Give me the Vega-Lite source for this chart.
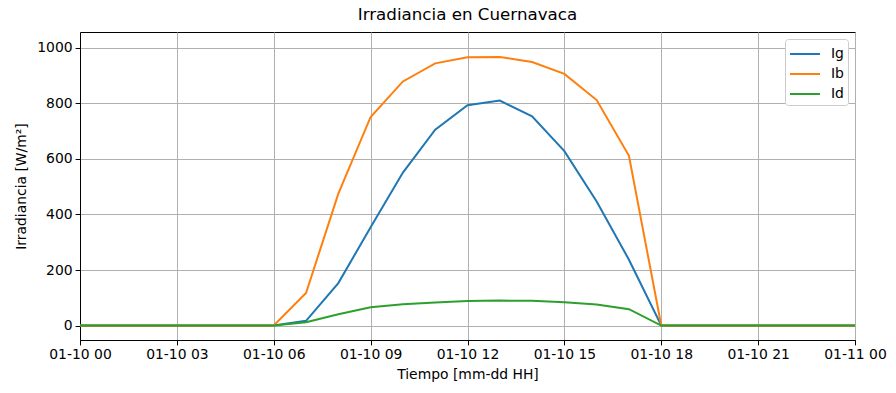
{
  "$schema": "https://vega.github.io/schema/vega-lite/v6.json",
  "width": 775,
  "height": 308,
  "autosize": {"type": "none"},
  "padding": {"left": 80, "top": 32, "right": 41, "bottom": 53},
  "background": "white",
  "title": {"text": "Irradiancia en Cuernavaca", "font": "DejaVu Sans", "fontSize": 16.7, "fontWeight": "normal", "color": "black", "anchor": "middle", "offset": 8},
  "config": {
    "view": {"stroke": "black", "strokeWidth": 1},
    "font": "DejaVu Sans",
    "axis": {
      "labelFont": "DejaVu Sans", "labelFontSize": 13.9, "labelColor": "black",
      "titleFont": "DejaVu Sans", "titleFontSize": 13.9, "titleFontWeight": "normal", "titleColor": "black",
      "domainColor": "black", "domainWidth": 1, "tickColor": "black", "tickSize": 4.9, "tickWidth": 1,
      "gridColor": "#b0b0b0", "gridWidth": 1, "gridOpacity": 1
    }
  },
  "data": {"values": [
    {"t": "2024-01-10T00:00:00Z", "s": "Ig", "v": 0}, {"t": "2024-01-10T01:00:00Z", "s": "Ig", "v": 0}, {"t": "2024-01-10T02:00:00Z", "s": "Ig", "v": 0}, {"t": "2024-01-10T03:00:00Z", "s": "Ig", "v": 0}, {"t": "2024-01-10T04:00:00Z", "s": "Ig", "v": 0}, {"t": "2024-01-10T05:00:00Z", "s": "Ig", "v": 0}, {"t": "2024-01-10T06:00:00Z", "s": "Ig", "v": 0},
    {"t": "2024-01-10T07:00:00Z", "s": "Ig", "v": 17}, {"t": "2024-01-10T08:00:00Z", "s": "Ig", "v": 153}, {"t": "2024-01-10T09:00:00Z", "s": "Ig", "v": 354}, {"t": "2024-01-10T10:00:00Z", "s": "Ig", "v": 551}, {"t": "2024-01-10T11:00:00Z", "s": "Ig", "v": 705}, {"t": "2024-01-10T12:00:00Z", "s": "Ig", "v": 793}, {"t": "2024-01-10T13:00:00Z", "s": "Ig", "v": 810}, {"t": "2024-01-10T14:00:00Z", "s": "Ig", "v": 753}, {"t": "2024-01-10T15:00:00Z", "s": "Ig", "v": 628}, {"t": "2024-01-10T16:00:00Z", "s": "Ig", "v": 447}, {"t": "2024-01-10T17:00:00Z", "s": "Ig", "v": 237},
    {"t": "2024-01-10T18:00:00Z", "s": "Ig", "v": 0}, {"t": "2024-01-10T19:00:00Z", "s": "Ig", "v": 0}, {"t": "2024-01-10T20:00:00Z", "s": "Ig", "v": 0}, {"t": "2024-01-10T21:00:00Z", "s": "Ig", "v": 0}, {"t": "2024-01-10T22:00:00Z", "s": "Ig", "v": 0}, {"t": "2024-01-10T23:00:00Z", "s": "Ig", "v": 0}, {"t": "2024-01-11T00:00:00Z", "s": "Ig", "v": 0},
    {"t": "2024-01-10T00:00:00Z", "s": "Ib", "v": 0}, {"t": "2024-01-10T01:00:00Z", "s": "Ib", "v": 0}, {"t": "2024-01-10T02:00:00Z", "s": "Ib", "v": 0}, {"t": "2024-01-10T03:00:00Z", "s": "Ib", "v": 0}, {"t": "2024-01-10T04:00:00Z", "s": "Ib", "v": 0}, {"t": "2024-01-10T05:00:00Z", "s": "Ib", "v": 0}, {"t": "2024-01-10T06:00:00Z", "s": "Ib", "v": 0},
    {"t": "2024-01-10T07:00:00Z", "s": "Ib", "v": 117}, {"t": "2024-01-10T08:00:00Z", "s": "Ib", "v": 475}, {"t": "2024-01-10T09:00:00Z", "s": "Ib", "v": 751}, {"t": "2024-01-10T10:00:00Z", "s": "Ib", "v": 879}, {"t": "2024-01-10T11:00:00Z", "s": "Ib", "v": 944}, {"t": "2024-01-10T12:00:00Z", "s": "Ib", "v": 966}, {"t": "2024-01-10T13:00:00Z", "s": "Ib", "v": 967}, {"t": "2024-01-10T14:00:00Z", "s": "Ib", "v": 949}, {"t": "2024-01-10T15:00:00Z", "s": "Ib", "v": 906}, {"t": "2024-01-10T16:00:00Z", "s": "Ib", "v": 812}, {"t": "2024-01-10T17:00:00Z", "s": "Ib", "v": 611},
    {"t": "2024-01-10T18:00:00Z", "s": "Ib", "v": 0}, {"t": "2024-01-10T19:00:00Z", "s": "Ib", "v": 0}, {"t": "2024-01-10T20:00:00Z", "s": "Ib", "v": 0}, {"t": "2024-01-10T21:00:00Z", "s": "Ib", "v": 0}, {"t": "2024-01-10T22:00:00Z", "s": "Ib", "v": 0}, {"t": "2024-01-10T23:00:00Z", "s": "Ib", "v": 0}, {"t": "2024-01-11T00:00:00Z", "s": "Ib", "v": 0},
    {"t": "2024-01-10T00:00:00Z", "s": "Id", "v": 0}, {"t": "2024-01-10T01:00:00Z", "s": "Id", "v": 0}, {"t": "2024-01-10T02:00:00Z", "s": "Id", "v": 0}, {"t": "2024-01-10T03:00:00Z", "s": "Id", "v": 0}, {"t": "2024-01-10T04:00:00Z", "s": "Id", "v": 0}, {"t": "2024-01-10T05:00:00Z", "s": "Id", "v": 0}, {"t": "2024-01-10T06:00:00Z", "s": "Id", "v": 0},
    {"t": "2024-01-10T07:00:00Z", "s": "Id", "v": 12}, {"t": "2024-01-10T08:00:00Z", "s": "Id", "v": 41}, {"t": "2024-01-10T09:00:00Z", "s": "Id", "v": 66}, {"t": "2024-01-10T10:00:00Z", "s": "Id", "v": 77}, {"t": "2024-01-10T11:00:00Z", "s": "Id", "v": 83}, {"t": "2024-01-10T12:00:00Z", "s": "Id", "v": 88}, {"t": "2024-01-10T13:00:00Z", "s": "Id", "v": 90}, {"t": "2024-01-10T14:00:00Z", "s": "Id", "v": 89}, {"t": "2024-01-10T15:00:00Z", "s": "Id", "v": 84}, {"t": "2024-01-10T16:00:00Z", "s": "Id", "v": 76}, {"t": "2024-01-10T17:00:00Z", "s": "Id", "v": 59},
    {"t": "2024-01-10T18:00:00Z", "s": "Id", "v": 0}, {"t": "2024-01-10T19:00:00Z", "s": "Id", "v": 0}, {"t": "2024-01-10T20:00:00Z", "s": "Id", "v": 0}, {"t": "2024-01-10T21:00:00Z", "s": "Id", "v": 0}, {"t": "2024-01-10T22:00:00Z", "s": "Id", "v": 0}, {"t": "2024-01-10T23:00:00Z", "s": "Id", "v": 0}, {"t": "2024-01-11T00:00:00Z", "s": "Id", "v": 0}
  ]},
  "mark": {"type": "line", "strokeWidth": 2},
  "encoding": {
    "x": {
      "field": "t", "type": "temporal",
      "scale": {"type": "utc", "domain": [1704844800000, 1704931200000], "nice": false},
      "axis": {"title": "Tiempo [mm-dd HH]", "format": "%m-%d %H", "values": [1704844800000, 1704855600000, 1704866400000, 1704877200000, 1704888000000, 1704898800000, 1704909600000, 1704920400000, 1704931200000], "labelPadding": 3, "titlePadding": 6, "labelFlush": false, "labelOverlap": false}
    },
    "y": {
      "field": "v", "type": "quantitative",
      "scale": {"domain": [-52, 1057], "nice": false, "zero": false},
      "axis": {"title": "Irradiancia [W/m²]", "format": "d", "values": [0, 200, 400, 600, 800, 1000], "labelPadding": 3, "titlePadding": 8}
    },
    "color": {
      "field": "s", "type": "nominal",
      "scale": {"domain": ["Ig", "Ib", "Id"], "range": ["#1f77b4", "#ff7f0e", "#2ca02c"]},
      "legend": {
        "title": null, "orient": "top-right", "offset": 7,
        "symbolType": "M-1.5,0H1.5", "symbolSize": 400, "symbolStrokeWidth": 2, "symbolOffset": 5,
        "labelFont": "DejaVu Sans", "labelFontSize": 13.9, "labelColor": "black", "labelOffset": 15,
        "fillColor": "white", "strokeColor": "#cccccc", "cornerRadius": 3, "padding": 4,
        "rowPadding": 2
      }
    }
  }
}
